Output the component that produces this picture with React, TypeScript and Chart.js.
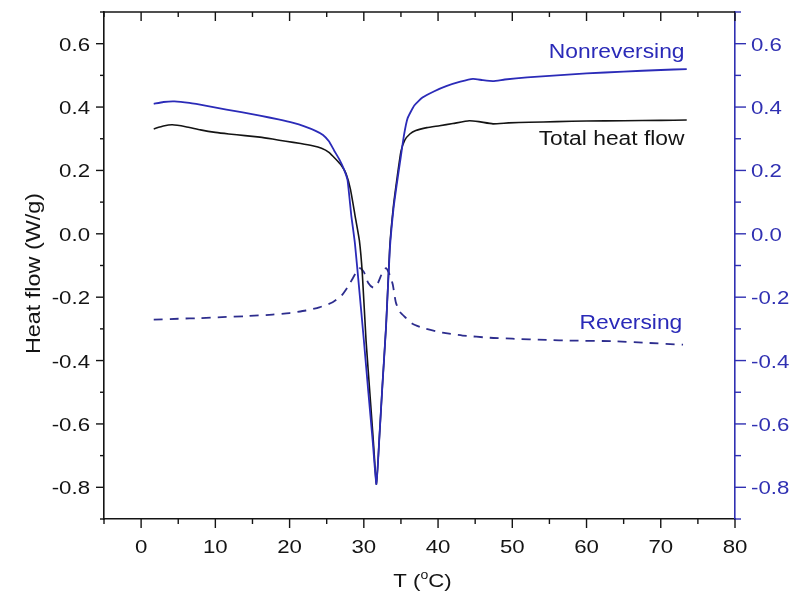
import { useEffect, useRef } from 'react';
import { Chart, registerables } from 'chart.js';

Chart.register(...registerables);

// ---- Data ----
const nonrevT = [1.7, 3.0, 4.5, 6.5, 9.0, 11.5, 13.5, 16.0, 18.5, 20.5, 22.0, 23.5, 24.5, 25.3, 26.0, 26.7, 27.3, 27.8, 28.3, 28.8, 29.4, 30.0, 30.6, 31.2, 31.7, 32.1, 32.5, 33.0, 33.5, 34.0, 34.4, 34.9, 35.4, 35.9, 36.8, 37.9, 39.5, 41.1, 43.0, 44.7, 46.0, 47.4, 49.0, 52.0, 56.0, 60.0, 65.0, 70.0, 73.5];
const nonrevHF = [0.410, 0.416, 0.418, 0.413, 0.403, 0.392, 0.384, 0.373, 0.361, 0.350, 0.339, 0.325, 0.312, 0.292, 0.263, 0.235, 0.205, 0.170, 0.060, -0.030, -0.180, -0.335, -0.497, -0.655, -0.790, -0.640, -0.480, -0.290, -0.050, 0.080, 0.150, 0.230, 0.310, 0.365, 0.405, 0.430, 0.450, 0.466, 0.480, 0.489, 0.485, 0.482, 0.487, 0.494, 0.500, 0.506, 0.512, 0.517, 0.520];

const totalT = [1.7, 3.0, 4.2, 6.0, 8.0, 10.0, 11.8, 14.0, 16.0, 17.7, 19.5, 21.5, 23.1, 24.3, 25.3, 26.2, 27.0, 27.6, 28.2, 28.8, 29.4, 29.8, 30.3, 30.9, 31.3, 31.7, 32.1, 32.5, 33.0, 33.5, 34.0, 34.5, 35.0, 35.5, 36.2, 37.0, 38.5, 40.2, 42.0, 44.2, 45.5, 47.4, 49.5, 52.3, 56.0, 60.0, 65.0, 70.0, 73.5];
const totalHF = [0.331, 0.340, 0.344, 0.338, 0.328, 0.320, 0.315, 0.310, 0.305, 0.299, 0.292, 0.285, 0.278, 0.270, 0.257, 0.236, 0.215, 0.190, 0.140, 0.060, -0.021, -0.127, -0.337, -0.530, -0.660, -0.790, -0.640, -0.480, -0.290, -0.040, 0.090, 0.180, 0.260, 0.295, 0.315, 0.326, 0.335, 0.341, 0.348, 0.357, 0.354, 0.347, 0.350, 0.352, 0.354, 0.356, 0.357, 0.358, 0.359];

const revT = [1.7, 5.0, 8.0, 10.9, 14.0, 17.7, 20.0, 22.2, 24.0, 25.8, 27.0, 27.8, 28.4, 28.9, 29.5, 30.0, 30.6, 31.3, 31.9, 32.5, 33.0, 33.5, 33.9, 34.3, 34.8, 35.7, 36.5, 37.9, 40.6, 43.3, 47.0, 50.0, 54.6, 58.0, 63.6, 68.0, 73.0];
const revHF = [-0.271, -0.268, -0.266, -0.263, -0.260, -0.255, -0.250, -0.242, -0.232, -0.216, -0.195, -0.169, -0.145, -0.125, -0.108, -0.120, -0.155, -0.170, -0.155, -0.122, -0.108, -0.130, -0.160, -0.215, -0.245, -0.266, -0.283, -0.297, -0.312, -0.321, -0.328, -0.331, -0.335, -0.337, -0.339, -0.344, -0.350];

const xTickLabels = [0, 10, 20, 30, 40, 50, 60, 70, 80];
const yTickLabels = [-0.8, -0.6, -0.4, -0.2, 0.0, 0.2, 0.4, 0.6];

const seriesNames = ['Nonreversing', 'Total heat flow', 'Reversing'];
const seriesLabelT = [73.2, 73.2, 72.9];
const seriesLabelHF = [0.556, 0.280, -0.299];

// ---- Styles ----
const FONT = "'Liberation Sans', Arial, sans-serif";
const SX = 1.17;
const BLACK = '#141414';
const BLUE_LINE = '#2b2bb8';
const BLUE_DASH = '#2d2d8e';
const BLUE_AXIS = '#3030b2';
const BLUE_TEXT = '#2a2ab8';

function wideText(ctx: CanvasRenderingContext2D, text: string, x: number, y: number, size: number, color: string, align: CanvasTextAlign, baseline: CanvasTextBaseline, rot = 0) {
  ctx.save();
  ctx.translate(x, y);
  if (rot) ctx.rotate(rot);
  ctx.scale(SX, 1);
  ctx.font = `${size}px ${FONT}`;
  ctx.fillStyle = color;
  ctx.textAlign = align;
  ctx.textBaseline = baseline;
  ctx.fillText(text, 0, 0);
  ctx.restore();
}

function seg(ctx: CanvasRenderingContext2D, x1: number, y1: number, x2: number, y2: number) {
  ctx.beginPath();
  ctx.moveTo(x1, y1);
  ctx.lineTo(x2, y2);
  ctx.stroke();
}

export default function App() {
  const ref = useRef<HTMLCanvasElement>(null);

  useEffect(() => {
    if (!ref.current) return;
    const pts = (t: number[], h: number[]) => t.map((v, i) => ({ x: v, y: h[i] }));

    const decor = {
      id: 'decor',
      afterDraw(chart: any) {
        const ctx: CanvasRenderingContext2D = chart.ctx;
        const { left, right, top, bottom } = chart.chartArea;
        const xs = chart.scales.x;
        const ys = chart.scales.y;
        ctx.save();
        ctx.lineWidth = 1.6;
        ctx.strokeStyle = BLACK;
        // top frame line
        seg(ctx, left, top, right, top);

        // x ticks (major + minor), bottom and top
        const xMajor = xTickLabels;
        const xMinor = [-5, ...xMajor.map((v) => v + 5).filter((v) => v < 80)];
        ctx.lineWidth = 1.4;
        for (const v of xMajor) {
          const p = xs.getPixelForValue(v);
          seg(ctx, p, bottom, p, bottom + 9);
          seg(ctx, p, top, p, top + 9);
        }
        for (const v of xMinor) {
          const p = xs.getPixelForValue(v);
          seg(ctx, p, bottom, p, bottom + 5);
          seg(ctx, p, top, p, top + 5);
        }
        // y ticks left (black)
        const yMinor = [-0.9, ...yTickLabels.map((v) => v + 0.1)];
        for (const v of yTickLabels) {
          const p = ys.getPixelForValue(v);
          seg(ctx, left, p, left - 8, p);
        }
        for (const v of yMinor) {
          const p = ys.getPixelForValue(v);
          seg(ctx, left, p, left - 4, p);
        }
        // y ticks right (blue)
        ctx.strokeStyle = BLUE_AXIS;
        for (const v of yTickLabels) {
          const p = ys.getPixelForValue(v);
          seg(ctx, right, p, right + 11, p);
        }
        for (const v of yMinor) {
          const p = ys.getPixelForValue(v);
          seg(ctx, right, p, right + 6, p);
        }

        // tick labels
        for (const v of xMajor) {
          wideText(ctx, String(v), xs.getPixelForValue(v), bottom + 34, 19, BLACK, 'center', 'alphabetic');
        }
        for (const v of yTickLabels) {
          const p = ys.getPixelForValue(v);
          const s = v.toFixed(1);
          wideText(ctx, s, left - 14, p + 7, 19, BLACK, 'right', 'alphabetic');
          wideText(ctx, s, right + 16, p + 7, 19, BLUE_AXIS, 'left', 'alphabetic');
        }

        // y axis title
        wideText(ctx, 'Heat flow (W/g)', 40, (top + bottom) / 2 + 8, 20, BLACK, 'center', 'alphabetic', -Math.PI / 2);

        // x axis title with superscript o
        ctx.font = `19px ${FONT}`;
        const w1 = ctx.measureText('T (').width * SX;
        const w3 = ctx.measureText('C)').width * SX;
        ctx.font = `12px ${FONT}`;
        const w2 = ctx.measureText('o').width * SX;
        const total = w1 + w2 + w3;
        const cx = (left + right) / 2 + 3;
        const base = bottom + 68;
        const x0 = cx - total / 2;
        wideText(ctx, 'T (', x0, base, 19, BLACK, 'left', 'alphabetic');
        wideText(ctx, 'o', x0 + w1, base - 8, 12, BLACK, 'left', 'alphabetic');
        wideText(ctx, 'C)', x0 + w1 + w2, base, 19, BLACK, 'left', 'alphabetic');

        // series labels
        const colors = [BLUE_TEXT, BLACK, BLUE_TEXT];
        seriesNames.forEach((name, i) => {
          wideText(ctx, name, xs.getPixelForValue(seriesLabelT[i]), ys.getPixelForValue(seriesLabelHF[i]), 19.5, colors[i], 'right', 'alphabetic');
        });
        ctx.restore();
      },
    };

    const chart = new Chart(ref.current, {
      type: 'line',
      data: {
        datasets: [
          { label: 'Nonreversing', data: pts(nonrevT, nonrevHF), borderColor: BLUE_LINE, borderWidth: 1.8, pointRadius: 0, tension: 0.15, fill: false, yAxisID: 'y' },
          { label: 'Total heat flow', data: pts(totalT, totalHF), borderColor: BLACK, borderWidth: 1.6, pointRadius: 0, tension: 0.15, fill: false, yAxisID: 'y' },
          { label: 'Reversing', data: pts(revT, revHF), borderColor: BLUE_DASH, borderWidth: 1.8, borderDash: [9, 7], pointRadius: 0, tension: 0.2, fill: false, yAxisID: 'y' },
        ],
      },
      options: {
        animation: false,
        responsive: false,
        maintainAspectRatio: false,
        events: [],
        layout: { padding: { top: 12, left: 0, right: 0, bottom: 0 } },
        plugins: { legend: { display: false }, tooltip: { enabled: false }, title: { display: false } },
        scales: {
          x: {
            type: 'linear', min: -5, max: 80,
            ticks: { display: false }, grid: { display: false },
            border: { display: true, color: BLACK, width: 1.6 },
            afterFit: (s: any) => { s.height = 76; },
          },
          y: {
            type: 'linear', position: 'left', min: -0.9, max: 0.7,
            ticks: { display: false }, grid: { display: false },
            border: { display: true, color: BLACK, width: 1.6 },
            afterFit: (s: any) => { s.width = 104; },
          },
          y2: {
            type: 'linear', position: 'right', min: -0.9, max: 0.7,
            ticks: { display: false }, grid: { display: false },
            border: { display: true, color: BLUE_AXIS, width: 1.6 },
            afterFit: (s: any) => { s.width = 59; },
          },
        },
      } as any,
      plugins: [decor],
    });
    return () => chart.destroy();
  }, []);

  return (
    <div style={{ position: 'absolute', left: 0, top: 0, width: 794, height: 595, background: '#ffffff' }}>
      <canvas ref={ref} width={794} height={595} style={{ display: 'block', width: 794, height: 595 }} />
    </div>
  );
}
